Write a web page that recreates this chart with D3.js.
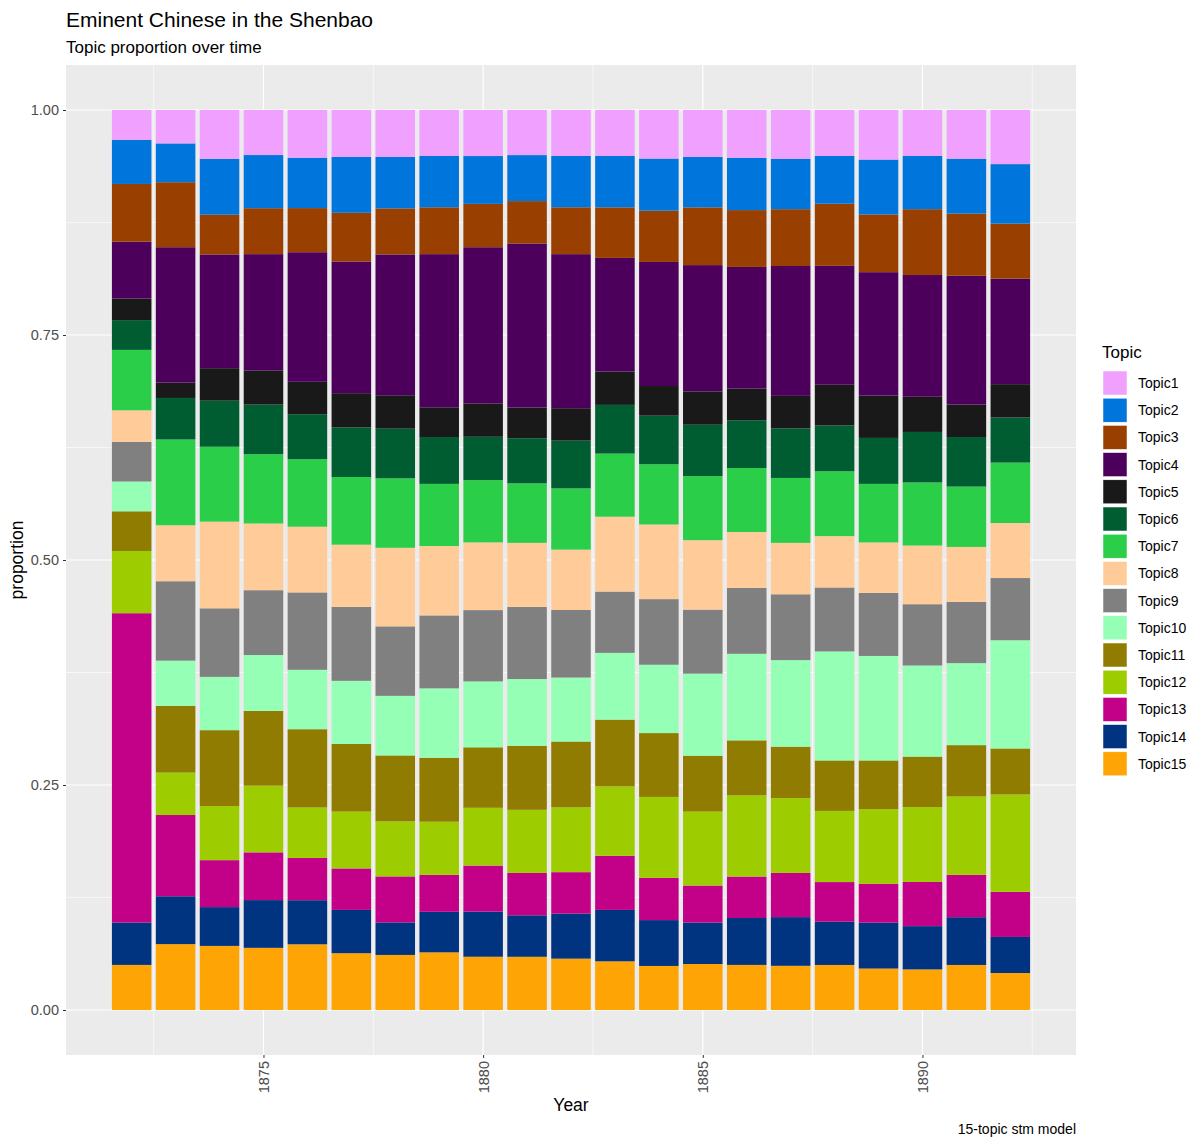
<!DOCTYPE html>
<html>
<head>
<meta charset="utf-8">
<script src="https://cdn.jsdelivr.net/npm/d3@7"></script>
<style>
  html, body { margin: 0; padding: 0; background: #fff; }
  svg { display: block; font-family: "Liberation Sans", Arial, Helvetica, sans-serif; }
</style>
</head>
<body>
<svg id="chart" width="1190" height="1138"></svg>
<script>
const years = d3.range(1872, 1893);
const topicNames = ["Topic1","Topic2","Topic3","Topic4","Topic5","Topic6","Topic7","Topic8","Topic9","Topic10","Topic11","Topic12","Topic13","Topic14","Topic15"];
const topicColors = ["#F0A0FF","#0075DC","#993F00","#4C005C","#191919","#005C31","#2BCE48","#FFCC99","#808080","#94FFB5","#8F7C00","#9DCC00","#C20088","#003380","#FFA405"];

const topic1  = [0.033,0.037,0.054,0.050,0.053,0.052,0.052,0.051,0.051,0.050,0.051,0.051,0.054,0.052,0.053,0.054,0.051,0.055,0.051,0.054,0.060];
const topic2  = [0.049,0.043,0.062,0.059,0.056,0.062,0.057,0.057,0.053,0.051,0.057,0.057,0.058,0.056,0.058,0.056,0.053,0.061,0.059,0.061,0.066];
const topic3  = [0.064,0.072,0.044,0.051,0.049,0.054,0.051,0.052,0.048,0.047,0.052,0.056,0.057,0.064,0.063,0.063,0.069,0.064,0.073,0.069,0.061];
const topic4  = [0.063,0.150,0.126,0.129,0.144,0.146,0.156,0.170,0.173,0.182,0.171,0.126,0.138,0.140,0.135,0.144,0.132,0.137,0.135,0.143,0.117];
const topic5  = [0.024,0.017,0.036,0.038,0.036,0.038,0.037,0.033,0.037,0.034,0.036,0.037,0.033,0.037,0.035,0.036,0.045,0.047,0.039,0.036,0.037];
const topic6  = [0.033,0.046,0.051,0.055,0.050,0.055,0.055,0.052,0.048,0.050,0.053,0.054,0.054,0.057,0.053,0.055,0.051,0.051,0.056,0.055,0.050];
const topic7  = [0.067,0.095,0.083,0.077,0.075,0.075,0.077,0.069,0.069,0.066,0.068,0.070,0.067,0.071,0.071,0.072,0.072,0.065,0.070,0.067,0.067];
const topic8  = [0.035,0.062,0.096,0.074,0.073,0.069,0.087,0.077,0.075,0.071,0.067,0.083,0.083,0.077,0.062,0.057,0.057,0.056,0.065,0.061,0.061];
const topic9  = [0.044,0.088,0.076,0.072,0.086,0.082,0.077,0.081,0.079,0.080,0.075,0.068,0.073,0.071,0.073,0.073,0.071,0.070,0.068,0.068,0.069];
const topic10 = [0.033,0.050,0.059,0.062,0.066,0.070,0.066,0.077,0.073,0.074,0.071,0.074,0.076,0.091,0.096,0.096,0.121,0.116,0.101,0.091,0.120];
const topic11 = [0.044,0.074,0.084,0.083,0.087,0.075,0.073,0.071,0.067,0.071,0.073,0.074,0.071,0.062,0.061,0.057,0.056,0.054,0.056,0.057,0.051];
const topic12 = [0.069,0.047,0.060,0.074,0.056,0.063,0.061,0.059,0.064,0.070,0.072,0.077,0.090,0.082,0.090,0.083,0.079,0.083,0.083,0.087,0.108];
const topic13 = [0.343,0.090,0.052,0.053,0.047,0.046,0.051,0.041,0.051,0.047,0.046,0.060,0.047,0.041,0.046,0.049,0.044,0.043,0.049,0.047,0.050];
const topic14 = [0.047,0.053,0.043,0.053,0.049,0.048,0.036,0.045,0.050,0.046,0.050,0.057,0.051,0.046,0.052,0.054,0.048,0.051,0.048,0.053,0.040];
const topic15 = [0.050,0.073,0.071,0.069,0.073,0.063,0.061,0.064,0.059,0.059,0.057,0.054,0.049,0.051,0.050,0.049,0.050,0.046,0.045,0.050,0.041];

const xTicks = [1875, 1880, 1885, 1890];
const xMinor = [1872.5, 1877.5, 1882.5, 1887.5, 1892.5];
const yTicks = [0, 0.25, 0.5, 0.75, 1];
const yMinor = [0.125, 0.375, 0.625, 0.875];

const seriesValues = [topic1,topic2,topic3,topic4,topic5,topic6,topic7,topic8,topic9,topic10,topic11,topic12,topic13,topic14,topic15];
const table = years.map((yr, i) => {
  const row = { year: yr };
  topicNames.forEach((t, k) => row[t] = seriesValues[k][i]);
  return row;
});

const svg = d3.select("#chart");
const P = { left: 66, right: 1076, top: 65, bottom: 1055 };

const x = d3.scaleLinear().domain([1870.505, 1893.495]).range([P.left, P.right]);
const y = d3.scaleLinear().domain([-0.05, 1.05]).range([P.bottom, P.top]);
const color = d3.scaleOrdinal().domain(topicNames).range(topicColors);

// panel
svg.append("rect").attr("x", P.left).attr("y", P.top)
  .attr("width", P.right - P.left).attr("height", P.bottom - P.top).attr("fill", "#EBEBEB");

const grid = svg.append("g");
yMinor.forEach(v => grid.append("line").attr("x1", P.left).attr("x2", P.right)
  .attr("y1", y(v)).attr("y2", y(v)).attr("stroke", "#fff").attr("stroke-width", 0.6));
xMinor.forEach(v => grid.append("line").attr("y1", P.top).attr("y2", P.bottom)
  .attr("x1", x(v)).attr("x2", x(v)).attr("stroke", "#fff").attr("stroke-width", 0.6));
yTicks.forEach(v => grid.append("line").attr("x1", P.left).attr("x2", P.right)
  .attr("y1", y(v)).attr("y2", y(v)).attr("stroke", "#fff").attr("stroke-width", 1.2));
xTicks.forEach(v => grid.append("line").attr("y1", P.top).attr("y2", P.bottom)
  .attr("x1", x(v)).attr("x2", x(v)).attr("stroke", "#fff").attr("stroke-width", 1.2));

// stacked bars (Topic15 at the bottom)
const stack = d3.stack().keys(topicNames.slice().reverse()).offset(d3.stackOffsetExpand);
const layers = stack(table);
const bw = 0.9 * (x(1) - x(0));
svg.append("g").selectAll("g").data(layers).join("g")
  .attr("fill", d => color(d.key))
  .selectAll("rect").data(d => d).join("rect")
  .attr("x", d => x(d.data.year) - bw / 2)
  .attr("width", bw)
  .attr("y", d => y(d[1]))
  .attr("height", d => y(d[0]) - y(d[1]));

// axes
const yAxis = svg.append("g").attr("transform", `translate(${P.left},0)`)
  .call(d3.axisLeft(y).tickValues(yTicks).tickFormat(d3.format(".2f")).tickSize(3).tickPadding(4));
yAxis.select(".domain").remove();
yAxis.selectAll(".tick line").attr("stroke", "#333").attr("stroke-width", 1);
yAxis.selectAll(".tick text").attr("fill", "#4D4D4D").style("font-size", "14.5px");

const xAxis = svg.append("g").attr("transform", `translate(0,${P.bottom})`)
  .call(d3.axisBottom(x).tickValues(xTicks).tickFormat(d3.format("d")).tickSize(3).tickPadding(4));
xAxis.select(".domain").remove();
xAxis.selectAll(".tick line").attr("stroke", "#333").attr("stroke-width", 1);
xAxis.selectAll(".tick text").attr("fill", "#4D4D4D").style("font-size", "14.5px")
  .attr("transform", "rotate(-90)").attr("text-anchor", "end")
  .attr("x", -6).attr("y", 0).attr("dy", "0.35em");

// titles
svg.append("text").attr("x", 66).attr("y", 27).text("Eminent Chinese in the Shenbao")
  .style("font-size", "21px").attr("fill", "#000");
svg.append("text").attr("x", 66).attr("y", 53).text("Topic proportion over time")
  .style("font-size", "17px").attr("fill", "#000");
svg.append("text").attr("transform", `translate(23,${y(0.5)}) rotate(-90)`)
  .attr("text-anchor", "middle").text("proportion").style("font-size", "17.5px");
svg.append("text").attr("x", (P.left + P.right) / 2).attr("y", 1111)
  .attr("text-anchor", "middle").text("Year").style("font-size", "17.5px");
svg.append("text").attr("x", P.right).attr("y", 1134).attr("text-anchor", "end")
  .text("15-topic stm model").style("font-size", "14px");

// legend
const lg = svg.append("g").attr("transform", "translate(1102,0)");
lg.append("text").attr("x", 0).attr("y", 358).text("Topic").style("font-size", "17px");
topicNames.forEach((t, i) => {
  const cy = 383 + i * 27.2;
  lg.append("rect").attr("x", 1).attr("y", cy - 12).attr("width", 24).attr("height", 24)
    .attr("fill", color(t)).attr("stroke", "#fff").attr("stroke-width", 0.5);
  lg.append("text").attr("x", 36).attr("y", cy).attr("dy", "0.35em").text(t)
    .style("font-size", "14px").attr("fill", "#000");
});
</script>
</body>
</html>
